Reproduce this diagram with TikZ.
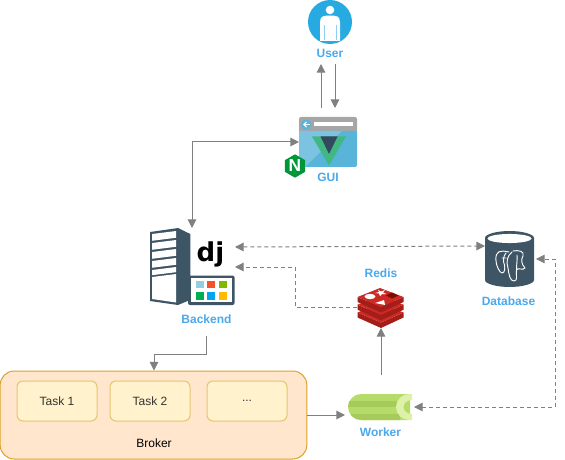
\documentclass[tikz,border=0pt]{standalone}
\usepackage{fontspec}
\setmainfont{Liberation Sans}
\newfontfamily\djfont{DejaVu Sans}
\usetikzlibrary{arrows.meta,shapes.geometric}
\definecolor{lbl}{HTML}{4AA8EC}
\definecolor{slate}{HTML}{3E5566}
\definecolor{conn}{HTML}{808080}
\definecolor{taskfill}{HTML}{FFF2CC}
\definecolor{taskline}{HTML}{E6C56F}
\definecolor{brokerfill}{HTML}{FFE6CC}
\definecolor{brokerline}{HTML}{DDA02A}
\definecolor{userblue}{HTML}{27AAE1}
\definecolor{guibar}{HTML}{A6A6A6}
\definecolor{guibody}{HTML}{59B4D9}
\definecolor{guilight}{HTML}{7CC3E1}
\definecolor{vuegreen}{HTML}{41B883}
\definecolor{vuedark}{HTML}{35495E}
\definecolor{nginxgreen}{HTML}{009639}
\definecolor{c1}{HTML}{92D0E0}
\definecolor{c2}{HTML}{F2532C}
\definecolor{c3}{HTML}{7FBA00}
\definecolor{c4}{HTML}{00B050}
\definecolor{c5}{HTML}{00A4EF}
\definecolor{c6}{HTML}{FFB900}
\definecolor{rdark}{HTML}{A51D18}
\definecolor{rmid}{HTML}{CB2A25}
\definecolor{rdeep}{HTML}{7A0C00}
\definecolor{wmain}{HTML}{B5DC68}
\definecolor{wband}{HTML}{A6CB5A}
\definecolor{wlight}{HTML}{DDF2A8}
\tikzset{
  x=0.75pt,y=-0.75pt,
  iconlabel/.style={font=\bfseries\fontsize{9}{11}\selectfont,text=lbl,inner sep=0pt},
  task/.style={draw=taskline,fill=taskfill,rounded corners=4.5pt,line width=0.75pt,minimum width=60pt,minimum height=30pt,inner sep=0pt,font=\fontsize{9}{11}\selectfont,text=black!80},
  link/.style={draw=conn,line width=0.75pt,-{Triangle[length=6.5pt,width=6.5pt]}},
  duallink/.style={draw=conn,line width=0.75pt,{Triangle[length=6.5pt,width=6.5pt]}-{Triangle[length=6.5pt,width=6.5pt]}},
  dashlink/.style={dash pattern=on 3pt off 2.25pt},
  icon/.style={inner sep=0pt,minimum width=0pt,minimum height=0pt},
}
\begin{document}
\begin{tikzpicture}
\useasboundingbox (0,0) rectangle (565,460);
% user
\fill[userblue] (330,22) circle[radius=16.5pt];
\fill[white] (330,10) circle[radius=3.2pt];
\fill[white] (320,41) -- (320,22) .. controls (320,16) and (324,15.5) .. (330,15.5) .. controls (336,15.5) and (340,16) .. (340,22) -- (340,41) -- cycle;
\draw[lbl!60,line width=0.4pt] (324,25) -- (324,40) (336,25) -- (336,40);
\node[icon] (usericon) at (330,22) [minimum size=33pt] {};
\node[iconlabel] (userlabel) at (330,53.5) {User};
% gui
\fill[rounded corners=1.5pt,guibar] (299,117) rectangle (357,135);
\fill[rounded corners=1.5pt,guibody] (299,131) rectangle (357,167);
\fill[guilight] (299,131) -- (342,131) -- (305,167) -- (299,167) -- cycle;
\fill[guibody] (306,124.5) circle[radius=3.9pt];
\draw[white,line width=0.9pt,-{Straight Barb[length=2pt,width=4pt]}] (310,124.5) -- (303,124.5);
\fill[white] (314,122.5) rectangle (353,126.5);
\fill[vuegreen] (312,136.5) -- (346,136.5) -- (329,165.5) -- cycle;
\fill[vuedark] (320.5,136.5) -- (337.5,136.5) -- (329,154) -- cycle;
\node[icon,minimum width=43.5pt,minimum height=37.5pt] (gui) at (328,142) {};
\node[regular polygon,regular polygon sides=6,shape border rotate=30,fill=nginxgreen,draw=none,minimum size=17.5pt,inner sep=0pt] (nginx) at (295,166) {};
\node[font=\bfseries\fontsize{13}{13}\selectfont,text=white,inner sep=0pt] at (nginx) {N};
\node[iconlabel] (guilabel) at (328,177.5) {GUI};
% backend server
\fill[slate] (150,232) -- (178,228) -- (190.3,234) -- (190.3,275) -- (190,300) -- (178,305) -- (150,301) -- cycle;
\fill[white] (152,234) -- (176,231) -- (176,237.8) -- (152,240.8) -- cycle
 (152,243) -- (176,240) -- (176,246.8) -- (152,249.8) -- cycle
 (152,252) -- (176,249) -- (176,255.8) -- (152,258.8) -- cycle
 (152,261) -- (176,258) -- (176,264.8) -- (152,267.8) -- cycle
 (152,270) -- (176,267) -- (176,272.2) -- (152,275.2) -- cycle
 (152,277) -- (176,274) -- (176,302.5) -- (152,299) -- cycle;
\node[icon] (backend) at (192,266) [minimum width=63pt,minimum height=58pt] {};
\node[font=\djfont\bfseries\fontsize{19.5}{20}\selectfont,inner sep=0pt,anchor=base] (dj) at (210.5,262) {dj};
\fill[rounded corners=1.5pt,slate] (188,275.5) rectangle (234.5,305);
\fill[white] (190.5,278) rectangle (232,301.5);
\fill[c1] (196,280.5) rectangle (203.5,288);
\fill[c2] (207,280.5) rectangle (215,288);
\fill[c3] (219,280.5) rectangle (226.5,288);
\fill[c4] (196,292) rectangle (203.5,299.5);
\fill[c5] (207,292) rectangle (215,299.5);
\fill[c6] (219,292) rectangle (226.5,299.5);
\node[iconlabel] (backendlabel) at (206.5,319.5) {Backend};
% database
\fill[slate] (485,238) .. controls (485,234) and (497,231) .. (509.5,231) .. controls (522,231) and (534,234) .. (534,238) -- (534,280) .. controls (534,284) and (522,287) .. (509.5,287) .. controls (497,287) and (485,284) .. (485,280) -- cycle;
\fill[white] (509.5,238.5) ellipse[x radius=16.5pt,y radius=3.4pt];
\node[icon,minimum width=37pt,minimum height=42pt] (database) at (509.5,259) {};
\draw[white,line width=0.7pt,line join=round,line cap=round]
 (509,252) .. controls (500,250) and (496,251) .. (495.8,259) .. controls (495.8,266) and (500,273) .. (502,273) .. controls (505,273) and (505,268) .. (504.5,265)
 (504.5,265) .. controls (503,262) and (503,256) .. (506,253)
 (512,252) .. controls (507,256) and (506,262) .. (508,268) .. controls (509,275) and (510,281) .. (514,281) .. controls (518.5,281) and (515.5,274) .. (516.5,270) .. controls (518,267) and (523,271) .. (525,268) .. controls (521,264) and (521,259) .. (523,256) .. controls (525,251) and (518,250) .. (513,251)
 (517,255) .. controls (517.5,260) and (516.5,264) .. (516.5,270)
 (502,258) -- (506,258);
\node[iconlabel] (dblabel) at (508.5,301.5) {Database};
% redis
\foreach \oy in {15.5,7.7,0}{
  \fill[rdark] (357.5,297+\oy) -- (381,307+\oy) -- (403.5,297+\oy) -- (403.5,302+\oy) -- (381,312.5+\oy) -- (357.5,302+\oy) -- cycle;
  \fill[rmid] (357.5,297+\oy) -- (380,288+\oy) -- (403.5,297+\oy) -- (381,307+\oy) -- cycle;
}
\fill[white] (370,296.5) ellipse[x radius=4.1pt,y radius=2pt];
\fill[white] (375,303) -- (384,300) -- (385,305) -- cycle;
\fill[white] (378,290) -- (381,291.5) -- (385,290) -- (383,292.5) -- (386,294) -- (382,294) -- (380,296) -- (379,293.5) -- (375,293) -- (379,292) -- cycle;
\fill[rdeep] (386,295.5) -- (392,292.5) -- (398,295.5) -- (392,298.5) -- cycle;
\node[icon,minimum width=35pt,minimum height=31pt] (redis) at (380.5,307.5) {};
\node[iconlabel] (redislabel) at (381,273.5) {Redis};
% broker
\node[draw=brokerline,fill=brokerfill,rounded corners=10.5pt,line width=0.75pt,minimum width=230pt,minimum height=66pt,inner sep=0pt] (broker) at (153.5,415) {};
\node[task] (t1) at (57,401) {Task 1};
\node[task] (t2) at (150,401) {Task 2};
\node[task] (t3) at (247,401) {...};
\node[inner sep=0pt,font=\fontsize{9}{11}\selectfont,text=black] (brokerlabel) at (154,443.5) {Broker};
% worker
\begin{scope}
\clip (361,394) -- (410,394) -- (410,420) -- (361,420) .. controls (354,420) and (348,414) .. (348,407) .. controls (348,400) and (354,394) .. (361,394) -- cycle;
\fill[wmain] (345,390) rectangle (412,424);
\fill[wband] (345,400.7) rectangle (400,407.3);
\fill[wband] (345,414.2) rectangle (400,424);
\end{scope}
\fill[wlight] (412,394) -- (409,394) .. controls (402,394) and (396,400) .. (396,407) .. controls (396,414) and (402,420) .. (409,420) -- (412,420) -- (412,414) .. controls (407,414) and (403.5,411) .. (403.5,407) .. controls (403.5,403) and (407,400) .. (412,400) -- cycle;
\node[icon,minimum width=48pt,minimum height=19.5pt] (worker) at (380,407) {};
\node[iconlabel] (workerlabel) at (380.5,432.5) {Worker};
% connectors
\coordinate (uup) at (321,108); \coordinate (uuptop) at (321,64);
\coordinate (udtop) at (335,64); \coordinate (ud) at (335,108);
\draw[link] (uup) -- (uuptop);
\draw[link] (udtop) -- (ud);
\coordinate (guiL) at (299,142);
\coordinate (backT) at (192,228);
\draw[duallink] (guiL) -| (backT);
\coordinate (bs) at (206,336); \coordinate (bk) at (154,370.5);
\draw[link] (bs) -- (206,354) -- (154,354) -- (bk);
\coordinate (brokerR) at (307,415); \coordinate (workerL) at (345,415);
\draw[link] (brokerR) -- (workerL);
\coordinate (workerT) at (381,375); \coordinate (redisB) at (381,328);
\draw[link] (workerT) -- (redisB);
\coordinate (redisL) at (357,307); \coordinate (backR2) at (235,267);
\draw[link,dashlink] (redisL) -- (295,307) -- (295,267) -- (backR2);
\coordinate (backR1) at (235,247); \coordinate (dbL) at (485,246);
\draw[duallink,dashlink] (backR1) -- (dbL);
\coordinate (workerR) at (414,407); \coordinate (dbR) at (536,259);
\draw[duallink,dashlink] (workerR) -- (555,407) -- (555,259) -- (dbR);
\end{tikzpicture}
\end{document}
